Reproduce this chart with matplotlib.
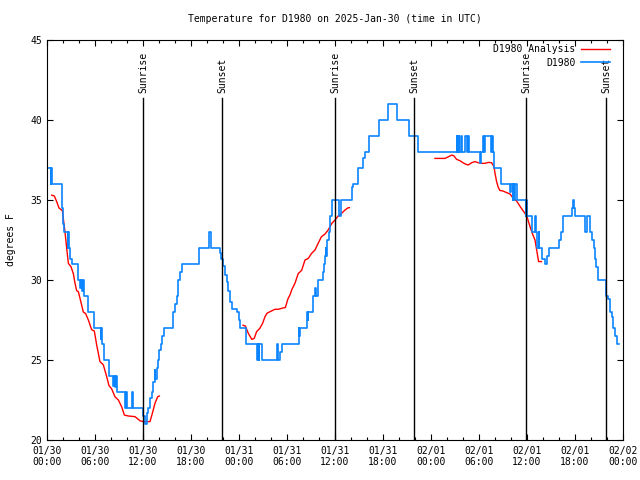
import numpy as np
import matplotlib
matplotlib.use('Agg')
import matplotlib.pyplot as plt
from matplotlib.ticker import MultipleLocator, FixedLocator

plt.rcParams['font.family'] = ['DejaVu Sans Mono']
plt.rcParams['font.size'] = 7

# hours since 2025-01-30 00:00 UTC
obs_hours = [0.0, 0.45, 0.55, 0.67, 1.92, 2.04, 2.12, 2.6, 2.65, 2.72, 2.9, 3.08, 3.92, 4.1, 4.2,
             4.35, 4.45, 4.67, 5.17, 5.92, 6.7, 6.76, 6.83, 7.17, 7.7, 7.76, 7.79, 8.3, 8.4, 8.5,
             8.6, 8.7, 9.75, 9.85, 9.96, 10.6, 10.8, 12.04, 12.2, 12.45, 12.6, 12.9, 13.1, 13.3,
             13.45, 13.55, 13.7, 13.85, 14.0, 14.2, 14.4, 14.6, 15.7, 15.8, 16.0, 16.2, 16.4, 16.6,
             16.9, 19.0, 20.2, 20.3, 20.45, 20.55, 21.6, 21.75, 22.04, 22.25, 22.46, 22.65, 22.875,
             23.08, 23.79, 23.95, 24.125, 24.875, 26.2, 26.25, 26.3, 26.4, 26.5, 26.55, 26.83, 28.7,
             28.8, 28.9, 29.1, 29.33, 31.5, 31.55, 31.6, 32.54, 32.58, 32.62, 33.2, 33.5, 33.6, 33.9,
             34.5, 34.65, 34.75, 34.85, 34.9, 34.96, 35.2, 35.4, 35.6, 36.5, 36.7, 38.08, 38.3, 38.9,
             39.46, 39.75, 40.3, 41.5, 42.6, 43.7, 45.2, 46.35, 51.2, 51.3, 51.45, 51.55, 51.8, 51.9,
             52.3, 52.45, 52.6, 52.7, 54.1, 54.2, 54.5, 54.6, 54.75, 55.5, 55.6, 55.75, 55.9, 56.7,
             57.9, 58.0, 58.2, 58.3, 58.4, 58.5, 58.8, 59.85, 59.9, 59.96, 60.6, 61.0, 61.1, 61.25,
             61.5, 61.55, 61.9, 62.2, 62.5, 62.7, 64.0, 64.2, 64.5, 65.6, 65.7, 65.9, 66.0, 67.25,
             67.3, 67.45, 67.85, 68.1, 68.35, 68.55, 68.65, 68.85, 69.9, 70.1, 70.4, 70.6, 70.8,
             71.0, 71.2, 71.5]
obs_temp = [37, 36, 37, 36, 34.5, 33.5, 33, 32, 33, 32, 31.3, 31, 30, 29.5, 30,
            29.3, 30, 29, 28, 27, 26.3, 27, 26, 25, 24.4, 25, 24, 23.4, 24, 23.3,
            24, 23, 22, 23, 22, 23, 22, 21.5, 21, 21.7, 22, 22.6, 23, 23.6,
            24.4, 23.8, 24.5, 25, 25.6, 26, 26.5, 27, 27.8, 28, 28.5, 29, 30, 30.5,
            31, 32, 32.4, 33, 32.4, 32, 31.7, 31.3, 30.9, 30.3, 29.9, 29.3, 28.6,
            28.2, 28, 27.5, 27, 26, 25.5, 26, 25, 26, 25, 26, 25, 25.5,
            26, 25, 25.5, 26, 27, 26.5, 27, 28, 27.5, 28, 29, 29.5, 29, 30,
            30.5, 31, 31.5, 32, 31.5, 32.5, 33, 34, 35, 34, 35, 35.8, 36, 37,
            37.6, 38, 39, 40, 41, 40, 39, 38, 39, 38, 39, 38, 39, 38,
            39, 38, 39, 38, 37.3, 38, 39, 38, 39, 38, 39, 38, 37, 36,
            35.5, 36, 35, 36, 35, 36, 35, 34, 35, 34, 33, 34, 33, 32,
            33, 32, 31.3, 31, 31.5, 32, 32.5, 33, 34, 34.5, 35, 34.5, 34, 33.5,
            33, 34, 33, 32.5, 32, 31.3, 30.8, 30, 29, 28.8, 28, 27.7, 27,
            26.5, 26, 26]

# analysis series, nan marks the gaps
ana_hours = [0.58, 0.92, 1.21, 1.5, 1.75, 1.92, 2.1, 2.25, 2.46, 2.67, 3.0, 3.29, 3.5, 3.71, 3.92,
             4.25, 4.54, 4.83, 5.17, 5.58, 5.92, 6.21, 6.62, 7.04, 7.46, 7.75, 8.08, 8.5, 8.92,
             9.33, 9.67, 10.17, 11.0, 11.63, 12.04, 12.875, 13.17, 13.5, 13.83, 14.04, np.nan,
             24.5, 24.8, 25.17, 25.6, 25.9, 26.2, 26.6, 26.95, 27.25, 27.5, 27.875, 28.5, 28.9,
             29.5, 29.8, 30.1, 30.4, 30.6, 31.0, 31.4, 31.83, 32.25, 32.66, 33.08, 33.5, 33.9,
             34.3, 34.75, 35.15, 35.6, 36.0, 36.4, 36.83, 37.25, 37.66, 37.79, np.nan,
             48.5, 49.75, 50.17, 50.6, 50.875, 51.2, 51.6, 52.0, 52.375, 52.66, 53.08, 53.5, 53.9,
             54.33, 54.75, 55.16, 55.58, 55.875, 56.0, 56.2, 56.4, 56.6, 57.0, 57.46, 57.875,
             58.3, 58.7, 59.16, 59.6, 60.0, 60.4, 60.75, 61.0, 61.2, 61.45, 61.8]
ana_temp = [35.3, 35.25, 34.9, 34.5, 34.4, 34.33, 33.6, 33.0, 32.0, 31.04, 30.83, 30.4, 29.8, 29.33, 29.27,
            28.6, 28.0, 27.9, 27.5, 26.9, 26.8, 25.94, 24.9, 24.7, 23.96, 23.4, 23.2, 22.7, 22.5,
            22.08, 21.56, 21.5, 21.46, 21.2, 21.15, 21.15, 21.67, 22.3, 22.7, 22.75, np.nan,
            27.17, 27.12, 26.66, 26.29, 26.35, 26.77, 26.98, 27.29, 27.71, 27.92, 28.02, 28.17, 28.17,
            28.25, 28.28, 28.8, 29.1, 29.4, 29.8, 30.4, 30.6, 31.25, 31.35, 31.67, 31.875, 32.3,
            32.7, 32.875, 33.125, 33.54, 33.75, 34.0, 34.17, 34.375, 34.52, 34.52, np.nan,
            37.6, 37.6, 37.7, 37.81, 37.75, 37.54, 37.46, 37.33, 37.23, 37.19, 37.33, 37.4, 37.33,
            37.29, 37.29, 37.35, 37.33, 37.08, 36.67, 36.15, 35.8, 35.6, 35.56, 35.46, 35.375,
            35.1, 34.94, 34.58, 34.27, 33.96, 33.3, 32.8, 32.5, 31.9, 31.15, 31.15]

sun_hours = [12.0, 21.875, 36.0, 45.875, 59.875, 69.875]
sun_labels = ['Sunrise', 'Sunset', 'Sunrise', 'Sunset', 'Sunrise', 'Sunset']

tick_hours = list(range(0, 73, 6))
tick_labels = ['01/30\n00:00', '01/30\n06:00', '01/30\n12:00', '01/30\n18:00',
               '01/31\n00:00', '01/31\n06:00', '01/31\n12:00', '01/31\n18:00',
               '02/01\n00:00', '02/01\n06:00', '02/01\n12:00', '02/01\n18:00',
               '02/02\n00:00']

fig = plt.figure(figsize=(6.4, 4.8), dpi=100)
ax = fig.add_axes([47 / 640, 40 / 480, 576 / 640, 400 / 480])

ax.plot(ana_hours, ana_temp, color='#ff0000', lw=1.0, label='D1980 Analysis')
ax.plot(obs_hours, obs_temp, color='#0a84ff', lw=1.2, drawstyle='steps-post', label='D1980')

for h, lab in zip(sun_hours, sun_labels):
    ax.plot([h, h], [20, 41.4], color='black', lw=1.0)
    ax.text(h, 41.7, lab, rotation=90, ha='center', va='bottom', fontsize=7)

ax.set_xlim(0, 72)
ax.set_ylim(20, 45)
ax.xaxis.set_major_locator(FixedLocator(tick_hours))
ax.set_xticklabels(tick_labels)
ax.xaxis.set_minor_locator(MultipleLocator(2))
ax.yaxis.set_major_locator(MultipleLocator(5))
ax.tick_params(which='both', direction='in', top=True, right=True)
ax.tick_params(which='major', length=4.5, width=0.8)
ax.tick_params(which='minor', length=2.5, width=0.8)
ax.tick_params(axis='x', pad=4)

ax.set_title('Temperature for D1980 on 2025-Jan-30 (time in UTC)', fontsize=7, pad=13)
ax.set_ylabel('degrees F', fontsize=7, labelpad=10)

ax.legend(loc='upper right', bbox_to_anchor=(0.988, 1.004), frameon=False, markerfirst=False,
          handlelength=3.0, fontsize=7, borderaxespad=0.2, labelspacing=0.35, handletextpad=0.6)

fig.savefig('out.png', dpi=100)
